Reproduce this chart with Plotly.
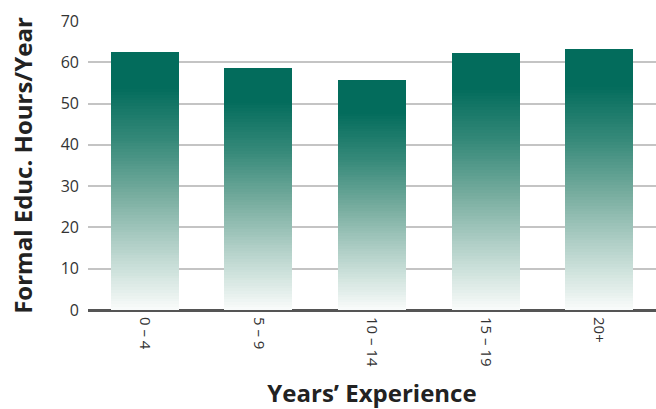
import plotly.graph_objects as go
import numpy as np

# Data
categories = ["0 – 4", "5 – 9", "10 – 14", "15 – 19", "20+"]
hours = [62.6, 58.7, 55.6, 62.3, 63.2]
y_ticks = [0, 10, 20, 30, 40, 50, 60, 70]

# Vertical gradient for the bars: (position from top of bar, rgb)
grad_stops = [
    (0.00, (3, 108, 92)),
    (0.14, (3, 108, 92)),
    (0.35, (55, 138, 122)),
    (0.55, (118, 172, 158)),
    (0.75, (178, 208, 200)),
    (0.92, (226, 238, 234)),
    (1.00, (250, 252, 251)),
]
n_slices = 90


def grad_color(t):
    ps = [p for p, _ in grad_stops]
    cols = np.array([c for _, c in grad_stops], dtype=float)
    r = np.interp(t, ps, cols[:, 0])
    g = np.interp(t, ps, cols[:, 1])
    b = np.interp(t, ps, cols[:, 2])
    return f"rgb({r:.0f},{g:.0f},{b:.0f})"


fig = go.Figure()
values = np.array(hours)
for i in range(n_slices):
    # slice i counted from the bottom; t measured from the top of each bar
    t = 1 - (i + 0.5) / n_slices
    fig.add_trace(go.Bar(
        x=categories,
        y=values / n_slices,
        marker=dict(color=grad_color(t), line=dict(width=0)),
        hoverinfo="skip",
        showlegend=False,
    ))

fig.update_layout(
    width=656, height=409,
    margin=dict(l=88, r=0, t=21, b=99),
    barmode="stack",
    bargap=0.4,
    plot_bgcolor="white",
    paper_bgcolor="white",
    font=dict(family="Open Sans", color="#333333"),
    xaxis=dict(
        type="category",
        tickangle=90,
        tickfont=dict(size=15, color="#333333"),
        ticklabelstandoff=6,
        showgrid=False,
        showline=False,
        ticks="",
        title=dict(text="Years’ Experience",
                   font=dict(size=24, color="#222222", family="Open Sans", weight="bold"),
                   standoff=22),
    ),
    yaxis=dict(
        range=[0, 70],
        tickvals=y_ticks,
        tickfont=dict(size=16, color="#333333"),
        ticklabelstandoff=8,
        showgrid=True,
        gridcolor="#c4c4c4",
        gridwidth=1.5,
        zeroline=True,
        zerolinecolor="#555555",
        zerolinewidth=2.5,
        showline=False,
        ticks="",
        title=dict(text="Formal Educ. Hours/Year",
                   font=dict(size=24, color="#222222", family="Open Sans", weight="bold"),
                   standoff=21),
    ),
)

fig.write_html("out.html")
